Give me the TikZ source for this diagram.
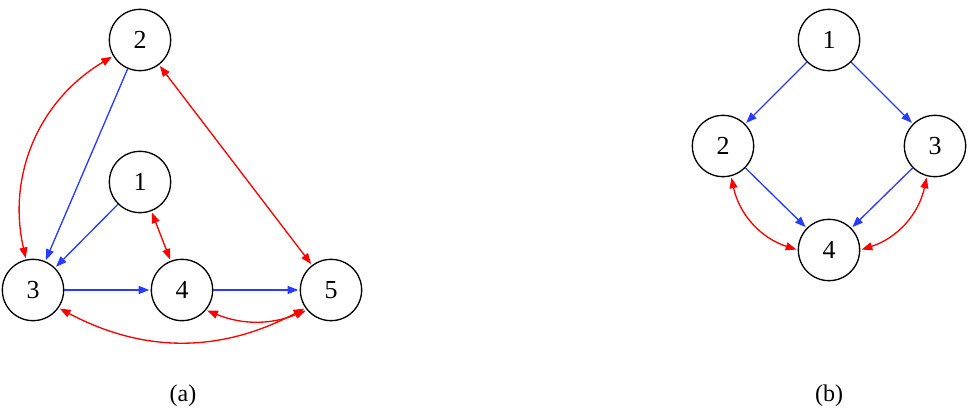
\documentclass[tikz,border=0pt]{standalone}
\usepackage{fontspec}
\setmainfont{Liberation Serif}
\usetikzlibrary{arrows.meta}
\begin{document}
\begin{tikzpicture}[x=0.75pt,y=-0.75pt,
  vtx/.style={circle,draw,line width=1pt,minimum size=46pt,inner sep=0pt,font=\fontsize{19.5}{22}\selectfont},
  bl/.style={draw={rgb,255:red,40;green,60;blue,255},line width=1pt,-{Triangle[length=8pt,width=6pt]},shorten >=1pt},
  rd/.style={draw=red,line width=1pt,{Triangle[length=8pt,width=6pt]}-{Triangle[length=8pt,width=6pt]},shorten >=1pt,shorten <=1pt},
  lab/.style={font=\fontsize{18}{20}\selectfont}]
\useasboundingbox (0,0) rectangle (969,414);
\node[vtx] (a2) at (140,40) {2};
\node[vtx] (a1) at (140,182) {1};
\node[vtx] (a3) at (33,290) {3};
\node[vtx] (a4) at (182,290) {4};
\node[vtx] (a5) at (331,290) {5};
\node[lab] (la) at (183,396) {(a)};
\draw[bl] (a2) -- (a3);
\draw[bl] (a1) -- (a3);
\draw[bl] (a3) -- (a4);
\draw[bl] (a4) -- (a5);
\draw[rd] (a2) to[bend right=36] (a3);
\draw[rd] (a2) -- (a5);
\draw[rd] (a1) -- (a4);
\draw[rd] (a3.-35) to[bend right=28] (a5.-145);
\draw[rd] (a4.-40) to[bend right=22] (a5.-140);
\node[vtx] (b1) at (829,40) {1};
\node[vtx] (b2) at (723,146) {2};
\node[vtx] (b3) at (935,146) {3};
\node[vtx] (b4) at (829,250) {4};
\node[lab] (lb) at (829,396) {(b)};
\draw[bl] (b1) -- (b2);
\draw[bl] (b1) -- (b3);
\draw[bl] (b2) -- (b4);
\draw[bl] (b3) -- (b4);
\draw[rd] (b2.-75) to[bend right=30] (b4.180);
\draw[rd] (b4.0) to[bend right=30] (b3.-105);
\end{tikzpicture}
\end{document}
